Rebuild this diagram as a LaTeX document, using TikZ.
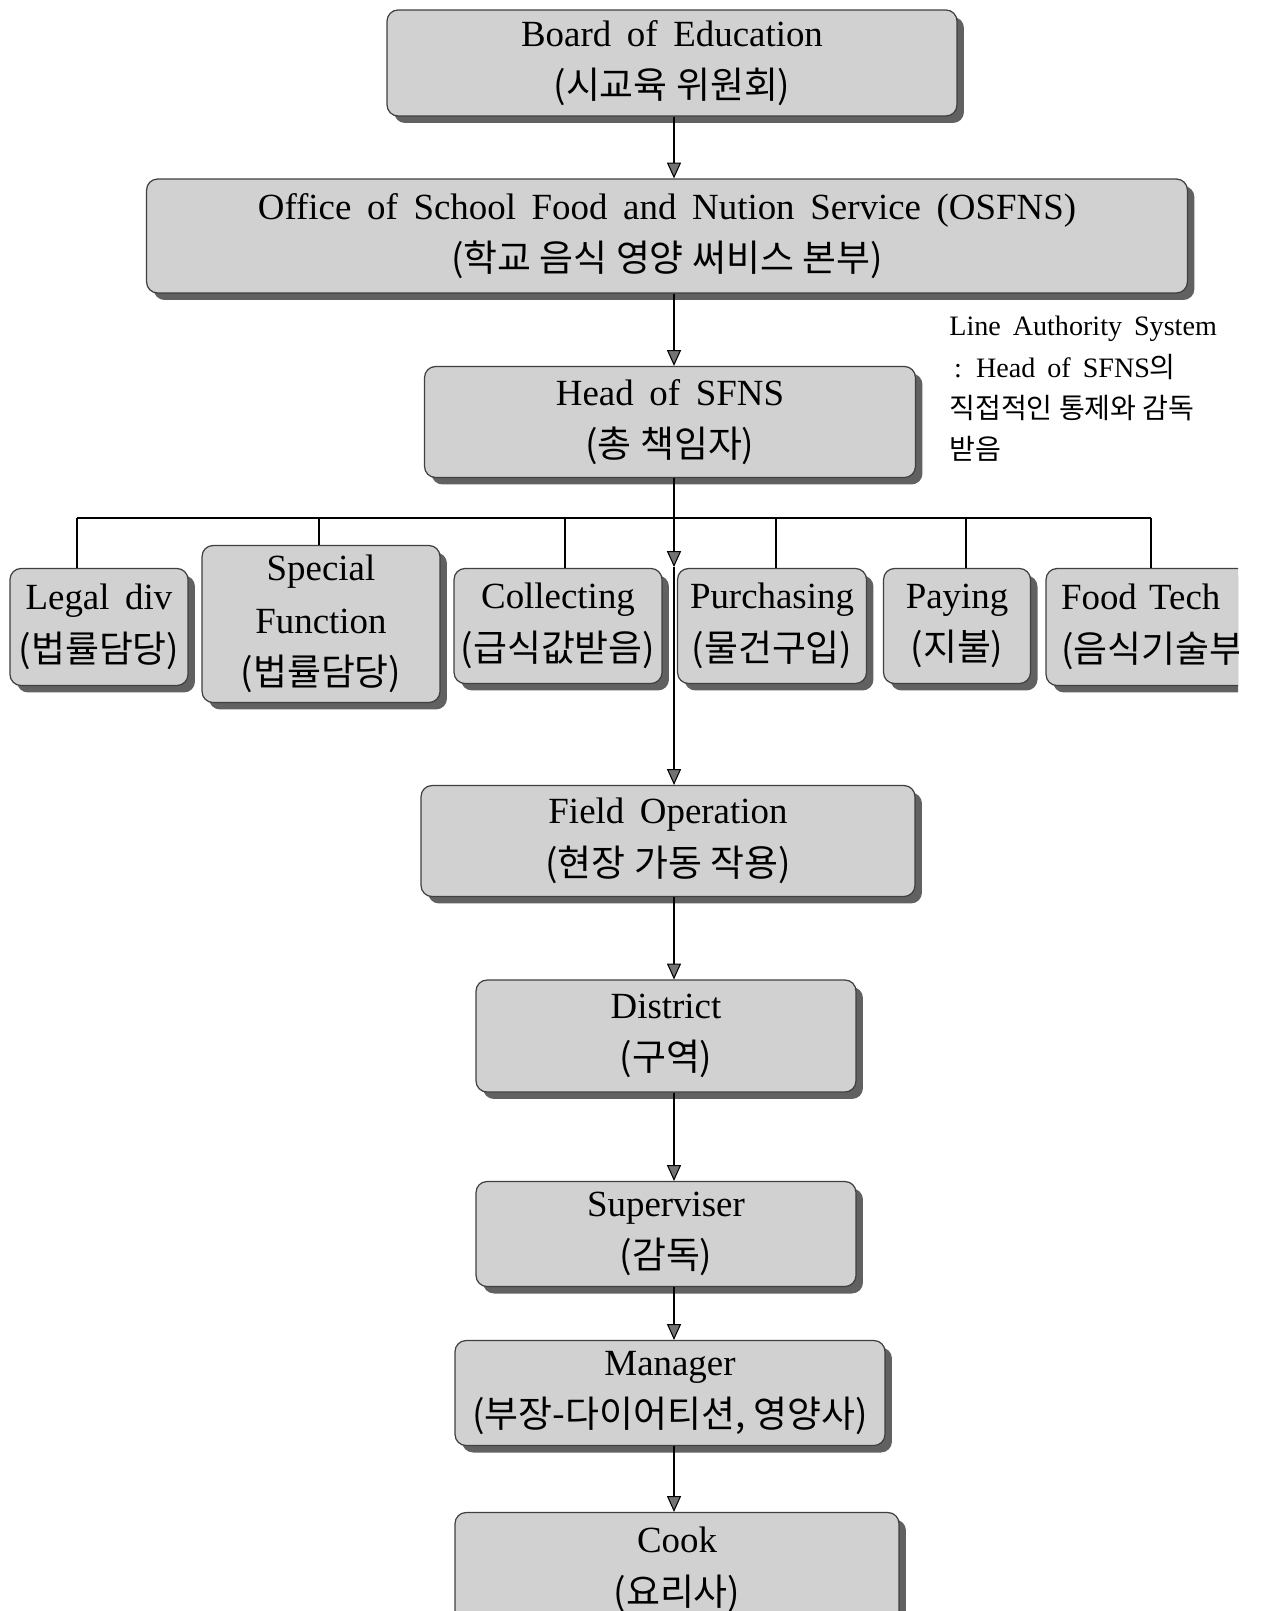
\documentclass[tikz,border=0pt]{standalone}
\usepackage{fontspec}
\setmainfont{Liberation Serif}[WordSpace=1.7]
\newfontfamily\krfont{Noto Sans CJK KR}
\newcommand{\kr}[1]{{\krfont #1}}
\usetikzlibrary{arrows.meta,shadows}

\begin{document}
\begin{tikzpicture}[x=0.02cm,y=-0.02cm,
    box/.style={draw=black!75,line width=0.7pt,fill=black!18,rounded corners=0.22cm,
      align=center,inner sep=0pt,font=\fontsize{21}{30}\selectfont,
      general shadow={fill=black!62,shadow xshift=0.14cm,shadow yshift=-0.14cm}},
    arr/.style={-{Triangle[width=8pt,length=9pt,fill=black!55]},line width=0.6pt},
    tick/.style={line width=0.6pt}]
  \useasboundingbox (0,0) rectangle (1263,1611);
  \clip (0,0) rectangle (1238,1611);
  \coordinate (axis) at (674,0);

  \node[box,minimum width=11.4cm,minimum height=2.12cm] (board) at (672,63)
    {Board of Education\\\kr{(시교육 위원회)}};
  \node[box,minimum width=20.82cm,minimum height=2.28cm] (osfns) at (667,236)
    {Office of School Food and Nution Service (OSFNS)\\\kr{(학교 음식 영양 써비스 본부)}};
  \node[box,minimum width=9.82cm,minimum height=2.22cm] (head) at (670,422)
    {Head of SFNS\\\kr{(총 책임자)}};
  \node[anchor=north west,align=left,inner sep=0pt,font=\fontsize{16}{23.5}\selectfont] (note) at (949,316)
    {Line Authority System\\\,: Head of SFNS\kr{의}\\\kr{직접적인 통제와 감독}\\\kr{받음}};

  \node[box,minimum width=3.56cm,minimum height=2.34cm] (legal) at (99,627)
    {Legal div\\\kr{(법률담당)}};
  \node[box,minimum width=4.76cm,minimum height=3.14cm] (special) at (321,624)
    {Special\\Function\\\kr{(법률담당)}};
  \node[box,minimum width=4.16cm,minimum height=2.3cm] (collect) at (558,626)
    {Collecting\\\kr{(급식값받음)}};
  \node[box,minimum width=3.78cm,minimum height=2.3cm] (purch) at (772,626)
    {Purchasing\\\kr{(물건구입)}};
  \node[box,minimum width=2.94cm,minimum height=2.3cm] (pay) at (957,626)
    {Paying\\\kr{(지불)}};
  \node[box,minimum width=5.2cm,minimum height=2.34cm,text width=4.6cm,align=left] (food) at (1176,627)
    {Food Tech\\\kr{(음식기술부)}};

  \node[box,minimum width=9.88cm,minimum height=2.22cm] (field) at (668,841)
    {Field Operation\\\kr{(현장 가동 작용)}};
  \node[box,minimum width=7.6cm,minimum height=2.24cm] (district) at (666,1036)
    {District\\\kr{(구역)}};
  \node[box,minimum width=7.6cm,minimum height=2.1cm] (super) at (666,1234)
    {Superviser\\\kr{(감독)}};
  \node[box,minimum width=8.6cm,minimum height=2.1cm] (manager) at (670,1393)
    {Manager\\\kr{(부장-다이어티션, 영양사)}};
  \node[box,minimum width=8.88cm,minimum height=2.3cm] (cook) at (677,1570)
    {Cook\\\kr{(요리사)}};

  \coordinate (rowtop) at (674,567);
  \draw[arr] (board.south -| axis) -- (osfns.north -| axis);
  \draw[arr] (osfns.south -| axis) -- (head.north -| axis);
  \draw[arr] (head.south -| axis) -- (rowtop);
  \draw[arr] (rowtop) -- (field.north -| axis);
  \draw[arr] (field.south -| axis) -- (district.north -| axis);
  \draw[arr] (district.south -| axis) -- (super.north -| axis);
  \draw[arr] (super.south -| axis) -- (manager.north -| axis);
  \draw[arr] (manager.south -| axis) -- (cook.north -| axis);

  \foreach \n/\x in {legal/77,special/319,collect/565,purch/776,pay/966,food/1151}{
    \coordinate (t\n) at (\x,518);
    \draw[tick] (t\n) -- (t\n |- \n.north);
  }
  \draw[tick] (tlegal) -- (tfood);
\end{tikzpicture}
\end{document}
